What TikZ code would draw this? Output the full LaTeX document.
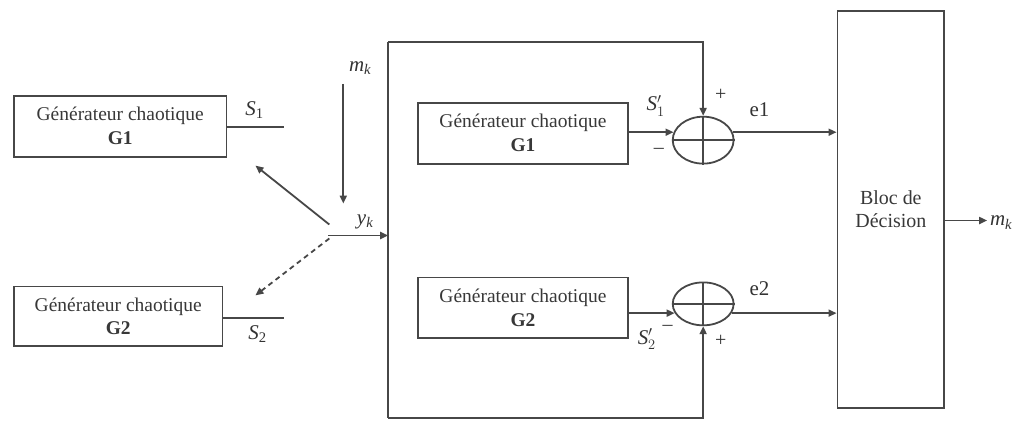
\documentclass[tikz,border=0pt]{standalone}
\usepackage{fontspec}
\setmainfont{Liberation Serif}
\usetikzlibrary{arrows.meta,shapes.geometric}
\begin{document}
\begin{tikzpicture}[x=1pt,y=-1pt,
  line width=1.8pt,
  every path/.style={draw=black!72},
  blk/.style={draw=black!72, line width=1.8pt, rectangle, inner sep=0pt, align=center, font=\fontsize{19.5}{24}\selectfont, text=black!78},
  sumn/.style={draw=black!72, ellipse, inner sep=0pt},
  arr/.style={-{Triangle[length=8pt,width=7pt]}},
  lbl/.style={font=\fontsize{21}{21}\selectfont, inner sep=0pt, text=black!80},
  sgn/.style={font=\fontsize{20}{20}\selectfont, inner sep=0pt, text=black!80}]
\useasboundingbox (0,0) rectangle (1020,421);
\fill[white] (0,0) rectangle (1020,421);

% left generators
\node[blk, minimum width=213pt, minimum height=61pt] (ga) at (119.5,125.5) {Générateur chaotique\\\textbf{G1}};
\node[blk, minimum width=209pt, minimum height=60pt] (gb) at (117.5,316) {Générateur chaotique\\\textbf{G2}};
\coordinate (s1end) at (284,126);
\coordinate (s2end) at (284,318);
\draw (ga.east |- s1end) -- (s1end);
\draw (gb.east |- s2end) -- (s2end);
\node[lbl] (s1lab) at (254,109) {\textit{S}\textsubscript{1}};
\node[lbl] (s2lab) at (257,334) {\textit{S}\textsubscript{2}};

% switch
\coordinate (hubA) at (329,224);
\coordinate (tipA) at (255,165);
\coordinate (hubB) at (329,238);
\coordinate (tipB) at (255,295);
\draw[arr] (hubA) -- (tipA);
\draw[arr, dashed, dash pattern=on 5pt off 4pt] (hubB) -- (tipB);
\coordinate (mtop) at (343,83);
\coordinate (mbot) at (343,203);
\draw[arr] (mtop) -- (mbot);
\node[lbl] (mklab) at (360,67) {\textit{m}\textsubscript{\textit{k}}};

% big frame
\coordinate (tl) at (388,41);
\coordinate (bl) at (388,418);
\draw (tl) -- (bl);
\coordinate (yk0) at (328,235);
\draw[arr] (yk0) -- (yk0 -| tl);
\node[lbl] (yklab) at (365,221) {\textit{y}\textsubscript{\textit{k}}};

% inner generators
\node[blk, minimum width=210pt, minimum height=61pt] (gc) at (523,132.5) {Générateur chaotique\\\textbf{G1}};
\node[blk, minimum width=210pt, minimum height=61pt] (gd) at (523,307.5) {Générateur chaotique\\\textbf{G2}};

% summers
\node[sumn, minimum width=61pt, minimum height=47pt] (sa) at (703.5,139.5) {};
\node[sumn, minimum width=61pt, minimum height=43pt] (sb) at (703.5,303.5) {};
\draw (sa.west) -- (sa.east);
\draw (sb.west) -- (sb.east);
\draw[arr] (tl) -| (sa.north);
\draw (sa.north) -- (sa.south);
\draw[arr] (bl) -| (sb.south);
\draw (sb.south) -- (sb.north);
\draw[arr] (gc.east |- sa.165) -- (sa.165);
\draw[arr] (gd.east |- sb.198) -- (sb.198);

\node[lbl] (s1plab) at (656,105) {\textit{S}$'_{1}$};
\node[lbl] (s2plab) at (647,339) {\textit{S}$'_{2}$};
\node[sgn] (m1) at (659,150) {–};
\node[sgn] (p1) at (721,94) {+};
\node[sgn] (m2) at (668,328) {–};
\node[sgn] (p2) at (721,341) {+};

% decision block
\node[blk, minimum width=107pt, minimum height=398pt, font=\fontsize{20}{23}\selectfont] (bloc) at (891.5,209) {Bloc de\\Décision};
\draw[arr] (sa.15) -- (bloc.west |- sa.15);
\draw[arr] (sb.342) -- (bloc.west |- sb.342);
\node[lbl] (e1lab) at (760,109) {e1};
\node[lbl] (e2lab) at (760,288) {e2};
\coordinate (mout) at (988,220);
\draw[arr] (bloc.east |- mout) -- (mout);
\node[lbl, anchor=west] (mklab2) at (990,222) {\textit{m}\textsubscript{\textit{k}}};
\end{tikzpicture}
\end{document}
